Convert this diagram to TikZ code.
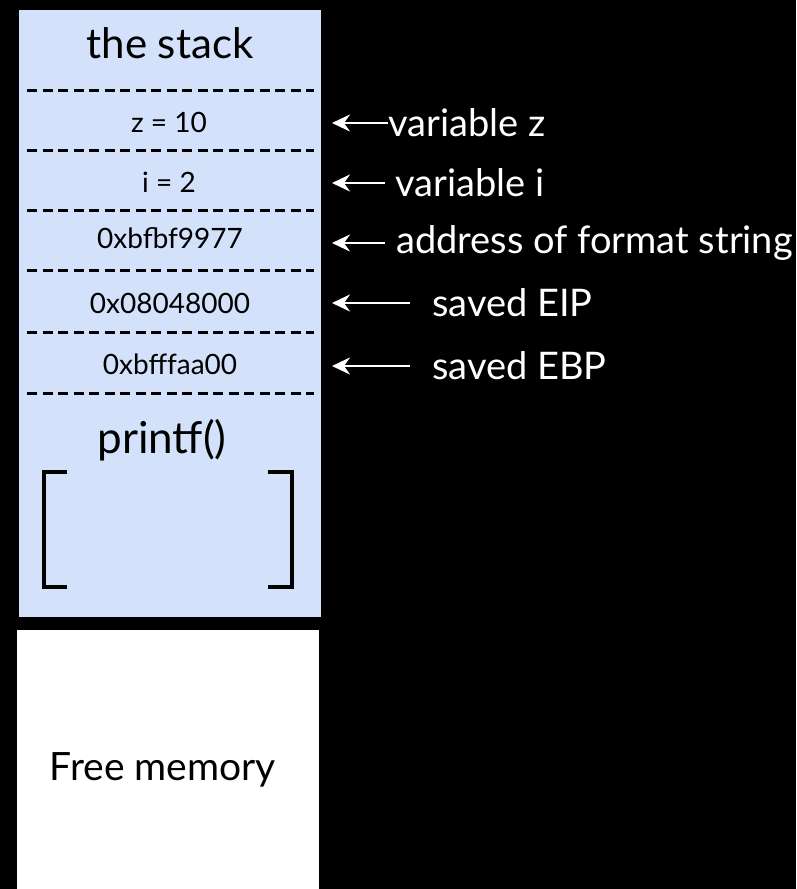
\documentclass[tikz,border=0pt]{standalone}
\usepackage{fontspec}
\setmainfont{Lato}
\usetikzlibrary{arrows.meta}
\definecolor{stackblue}{RGB}{211,225,250}
\tikzset{
  cell/.style={font=\fontsize{28}{32}\selectfont, text=black, inner sep=0pt},
  sep/.style={line width=3pt, dash pattern=on 10pt off 5.5pt, black},
  lbl/.style={font=\fontsize{38}{41}\selectfont, text=white, anchor=west, inner sep=0pt},
  ptr/.style={white, line width=2.8pt, {Stealth[length=18pt,width=17pt,inset=6pt]}-},
  brk/.style={black, line width=4pt}
}
\begin{document}
\begin{tikzpicture}[x=1pt,y=-1pt]
  % page and background
  \fill[black] (0,0) rectangle (796,889);
  \useasboundingbox (0,0) rectangle (796,889);

  % stack and free memory blocks
  \fill[stackblue] (19,10) rectangle (321,617);
  \fill[white] (17,630) rectangle (319,889);

  % heading
  \node[font=\fontsize{42}{46}\selectfont, inner sep=0pt] (title) at (170,43) {the stack};

  % separators between the slots
  \foreach \y in {90,150,210,270,332,393}
    \draw[sep] (27,\y) -- (314,\y);

  % stack slots
  \node[cell] (z)   at (169,122) {z = 10};
  \node[cell] (i)   at (169,182) {i = 2};
  \node[cell] (fmt) at (170,238) {0xbfbf9977};
  \node[cell] (eip) at (170,303) {0x08048000};
  \node[cell] (ebp) at (170,364) {0xbfffaa00};

  % printf frame
  \node[font=\fontsize{44}{48}\selectfont, inner sep=0pt] (pf) at (162,440) {printf()};
  \draw[brk] (67,472) -- (44,472) -- (44,587) -- (67,587);
  \draw[brk] (268,472) -- (292,472) -- (292,587) -- (268,587);

  % free memory
  \node[font=\fontsize{39}{42}\selectfont, inner sep=0pt] (free) at (163,770) {Free memory};

  % annotations
  \node[lbl] (lz)   at (388,123) {variable z};
  \node[lbl] (li)   at (395,183) {variable i};
  \node[lbl] (lfmt) at (396,243) {address of format string};
  \node[lbl] (leip) at (432,303) {saved EIP};
  \node[lbl] (lebp) at (432,366) {saved EBP};

  \coordinate (tz)   at (332,123);
  \coordinate (ti)   at (332,183);
  \coordinate (tfmt) at (332,243);
  \coordinate (teip) at (332,303);
  \coordinate (tebp) at (332,366);

  \draw[ptr] (tz) -- (lz.west);
  \draw[ptr] (ti) -- ([xshift=-10pt]li.west);
  \draw[ptr] (tfmt) -- ([xshift=-11pt]lfmt.west);
  \draw[ptr] (teip) -- ([xshift=-22pt]leip.west);
  \draw[ptr] (tebp) -- ([xshift=-22pt]lebp.west);
\end{tikzpicture}
\end{document}
